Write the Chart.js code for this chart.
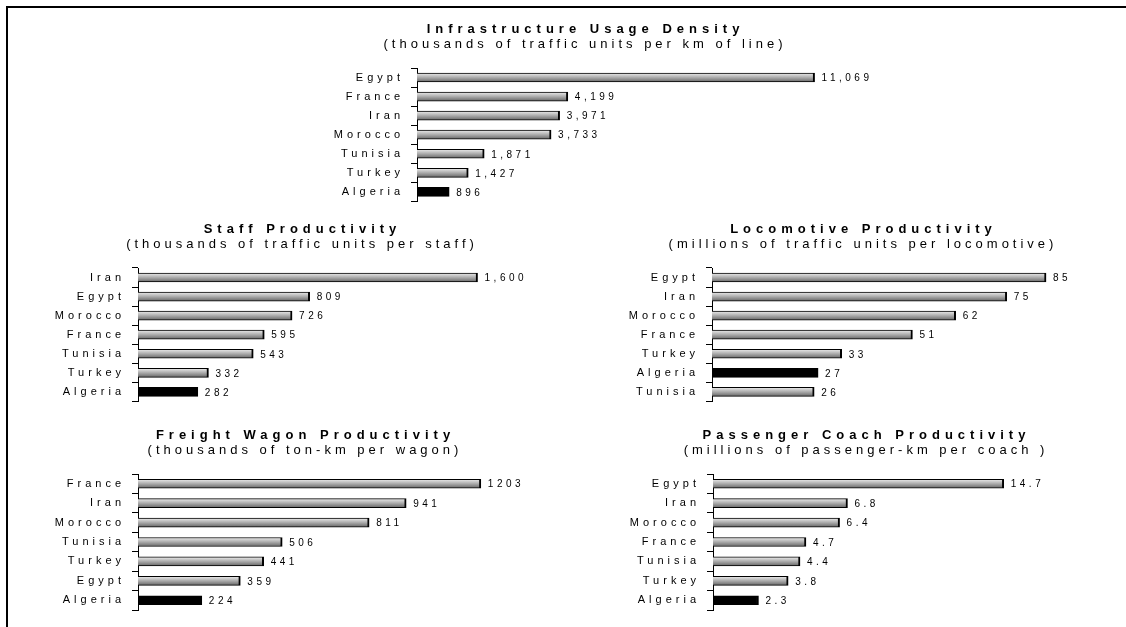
<!DOCTYPE html>
<html>
<head>
<meta charset="utf-8">
<script src="https://cdn.jsdelivr.net/npm/chart.js@4.4.1/dist/chart.umd.min.js"></script>
<style>
  body { margin: 0; background: #fff; }
  #frame { position: absolute; left: 6px; top: 6px; right: 0; bottom: 0; border-left: 2px solid #000; border-top: 2px solid #000; }
  canvas { position: absolute; }
</style>
</head>
<body>
<div id="frame"></div>
<canvas id="infraChart" width="606" height="215" style="left:280px;top:0px"></canvas>
<canvas id="staffChart" width="560" height="195" style="left:20px;top:220px"></canvas>
<canvas id="locoChart" width="522" height="195" style="left:600px;top:220px"></canvas>
<canvas id="wagonChart" width="560" height="200" style="left:23px;top:425px"></canvas>
<canvas id="coachChart" width="516" height="200" style="left:606px;top:425px"></canvas>
<script>
// Infrastructure usage density (thousands of traffic units per km of line)
const infraCountries = ["Egypt", "France", "Iran", "Morocco", "Tunisia", "Turkey", "Algeria"];
const infraValues = [11069, 4199, 3971, 3733, 1871, 1427, 896];

// Staff productivity (thousands of traffic units per staff)
const staffCountries = ["Iran", "Egypt", "Morocco", "France", "Tunisia", "Turkey", "Algeria"];
const staffValues = [1600, 809, 726, 595, 543, 332, 282];

// Locomotive productivity (millions of traffic units per locomotive)
const locoCountries = ["Egypt", "Iran", "Morocco", "France", "Turkey", "Algeria", "Tunisia"];
const locoValues = [85, 75, 62, 51, 33, 27, 26];

// Freight wagon productivity (thousands of ton-km per wagon)
const wagonCountries = ["France", "Iran", "Morocco", "Tunisia", "Turkey", "Egypt", "Algeria"];
const wagonValues = [1203, 941, 811, 506, 441, 359, 224];

// Passenger coach productivity (millions of passenger-km per coach)
const coachCountries = ["Egypt", "Iran", "Morocco", "France", "Tunisia", "Turkey", "Algeria"];
const coachValues = [14.7, 6.8, 6.4, 4.7, 4.4, 3.8, 2.3];

const FONT = "'Liberation Sans', Arial, sans-serif";
const HIGHLIGHT = "Algeria";

// wide letter spacing like the original export
const spacingPlugin = {
  id: 'spacing',
  beforeDraw(chart) { chart.ctx.letterSpacing = '4px'; }
};

// title + subtitle above the bars
const headingPlugin = {
  id: 'heading',
  afterDraw(chart, args, opts) {
    const ctx = chart.ctx;
    const cx = chart.width / 2;
    const top = chart.chartArea.top;
    ctx.save();
    ctx.fillStyle = '#000';
    ctx.textAlign = 'center';
    ctx.textBaseline = 'alphabetic';
    ctx.letterSpacing = '5px';
    ctx.font = 'bold 13px ' + FONT;
    ctx.fillText(opts.title, cx + 2.5, top - 35);
    ctx.letterSpacing = '4px';
    ctx.font = '13px ' + FONT;
    ctx.fillText(opts.subtitle, cx + 2, top - 20);
    ctx.restore();
  }
};

function formatValue(v, style) {
  if (style === 'comma') return v.toLocaleString('en-US');
  if (style === 'fixed1') return v.toFixed(1);
  return String(v);
}

// value labels at the end of each bar
const valuePlugin = {
  id: 'values',
  afterDatasetsDraw(chart, args, opts) {
    const ctx = chart.ctx;
    const meta = chart.getDatasetMeta(0);
    const values = chart.data.datasets[0].data;
    ctx.save();
    ctx.fillStyle = '#000';
    ctx.font = '10px ' + FONT;
    ctx.letterSpacing = '3.5px';
    ctx.textAlign = 'left';
    ctx.textBaseline = 'middle';
    meta.data.forEach((bar, i) => {
      ctx.fillText(formatValue(values[i], opts.style), bar.x + 7, bar.y + 1);
    });
    ctx.restore();
  }
};

// shaded grey bars, Algeria in black
function barFill(c) {
  const label = c.chart.data.labels[c.dataIndex];
  if (label === HIGHLIGHT) return '#000';
  const y = c.chart.scales.y;
  if (!y || c.dataIndex === undefined) return '#999';
  const mid = y.getPixelForValue(c.dataIndex);
  if (!Number.isFinite(mid)) return '#999';
  const g = c.chart.ctx.createLinearGradient(0, mid - 4.5, 0, mid + 4.5);
  g.addColorStop(0, '#ececec');
  g.addColorStop(0.5, '#ababab');
  g.addColorStop(1, '#666666');
  return g;
}

function makeChart(id, labels, values, o) {
  return new Chart(document.getElementById(id), {
    type: 'bar',
    data: {
      labels: labels,
      datasets: [{
        data: values,
        backgroundColor: barFill,
        borderColor: '#000',
        borderWidth: { top: 1, bottom: 1, left: 0, right: 2 },
        borderSkipped: false,
        barThickness: 9
      }]
    },
    options: {
      indexAxis: 'y',
      responsive: false,
      animation: false,
      events: [],
      layout: { padding: o.padding },
      scales: {
        x: { display: false, min: 0, max: o.max },
        y: {
          afterFit: s => { s.width = o.axis; },
          border: { color: '#000', width: 1 },
          grid: { drawOnChartArea: false, color: '#000', tickLength: 6, offset: true },
          ticks: { color: '#000', padding: 7, font: { family: FONT, size: 11 } }
        }
      },
      plugins: {
        legend: { display: false },
        tooltip: { enabled: false },
        heading: { title: o.title, subtitle: o.subtitle },
        values: { style: o.style }
      }
    },
    plugins: [spacingPlugin, headingPlugin, valuePlugin]
  });
}

makeChart('infraChart', infraCountries, infraValues, {
  title: 'Infrastructure Usage Density',
  subtitle: '(thousands of traffic units per km of line)',
  max: 12500, axis: 137, style: 'comma',
  padding: { top: 68, bottom: 13, left: 0, right: 20 }
});

makeChart('staffChart', staffCountries, staffValues, {
  title: 'Staff Productivity',
  subtitle: '(thousands of traffic units per staff)',
  max: 1800, axis: 118, style: 'comma',
  padding: { top: 48, bottom: 12, left: 0, right: 60 }
});

makeChart('locoChart', locoCountries, locoValues, {
  title: 'Locomotive Productivity',
  subtitle: '(millions of traffic units per locomotive)',
  max: 100, axis: 112, style: 'plain',
  padding: { top: 48, bottom: 12, left: 0, right: 17 }
});

makeChart('wagonChart', wagonCountries, wagonValues, {
  title: 'Freight Wagon Productivity',
  subtitle: '(thousands of ton-km per wagon)',
  max: 1400, axis: 115, style: 'plain',
  padding: { top: 49, bottom: 15, left: 0, right: 46 }
});

makeChart('coachChart', coachCountries, coachValues, {
  title: 'Passenger Coach Productivity',
  subtitle: '(millions of passenger-km per coach )',
  max: 18, axis: 107, style: 'fixed1',
  padding: { top: 49, bottom: 15, left: 0, right: 53 }
});
</script>
</body>
</html>
